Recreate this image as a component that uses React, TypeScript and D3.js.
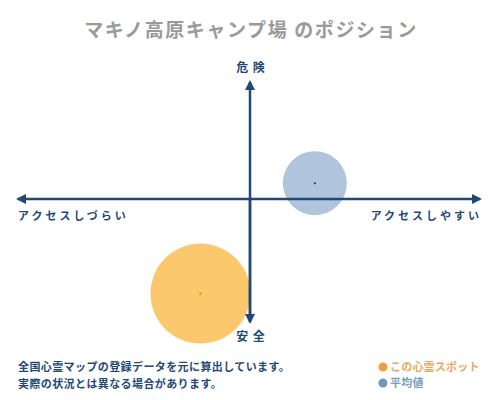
import { useEffect, useRef } from "react";
import * as d3 from "d3";

// positions on a -100..100 grid (x: access, y: danger)
const spotNames = ["この心霊スポット", "平均値"];
const accessValues = [-21, 28.5];
const dangerValues = [-78, 14];
const sizeValues = [100, 41];
const circleColors = ["#fcc86c", "#b0c4dc"];
const dotColors = ["#f0a020", "#333333"];
const legendColors = ["#f0a040", "#6e98c0"];
const legendTextColors = ["#e8a860", "#7b9cc0"];
const noteLines = [
  "全国心霊マップの登録データを元に算出しています。",
  "実際の状況とは異なる場合があります。",
];

const NAVY = "#1f4a75";
const FONT = "'Noto Sans CJK JP', sans-serif";

const App = () => {
  const ref = useRef<SVGSVGElement>(null);

  useEffect(() => {
    const svg = d3.select(ref.current);
    svg.selectAll("*").remove();

    const x = d3.scaleLinear().domain([-100, 100]).range([18, 480]);
    const y = d3.scaleLinear().domain([-100, 100]).range([320, 80]);
    const r = d3.scaleSqrt().domain([0, 100]).range([0, 50]);

    const defs = svg.append("defs");
    defs
      .append("marker")
      .attr("id", "arr")
      .attr("viewBox", "0 0 10 10")
      .attr("refX", 8)
      .attr("refY", 5)
      .attr("markerWidth", 4)
      .attr("markerHeight", 4)
      .attr("orient", "auto-start-reverse")
      .append("path")
      .attr("d", "M0,0 L10,5 L0,10 z")
      .attr("fill", NAVY);

    svg
      .append("rect")
      .attr("width", 500)
      .attr("height", 400)
      .attr("fill", "#fff");

    // title
    svg
      .append("text")
      .attr("x", 251)
      .attr("y", 37)
      .attr("text-anchor", "middle")
      .attr("font-family", FONT)
      .attr("font-size", 19)
      .attr("font-weight", 600)
      .attr("letter-spacing", 1.6)
      .attr("fill", "#9a9a9a")
      .text("マキノ高原キャンプ場 のポジション");

    // bubbles
    const idx = d3.range(spotNames.length);
    svg
      .selectAll("circle.bubble")
      .data(idx)
      .join("circle")
      .attr("class", "bubble")
      .attr("cx", (i) => x(accessValues[i]))
      .attr("cy", (i) => y(dangerValues[i]))
      .attr("r", (i) => r(sizeValues[i]))
      .attr("fill", (i) => circleColors[i]);

    // axes
    svg
      .append("line")
      .attr("x1", x(-100))
      .attr("x2", x(100))
      .attr("y1", y(0) - 1)
      .attr("y2", y(0) - 1)
      .attr("stroke", NAVY)
      .attr("stroke-width", 2.5)
      .attr("marker-start", "url(#arr)")
      .attr("marker-end", "url(#arr)");
    svg
      .append("line")
      .attr("x1", x(0) + 1)
      .attr("x2", x(0) + 1)
      .attr("y1", y(-100) + 2)
      .attr("y2", y(100) + 2)
      .attr("stroke", NAVY)
      .attr("stroke-width", 2.5)
      .attr("marker-end", "url(#arr)");
    svg
      .append("line")
      .attr("x1", x(0) + 1)
      .attr("x2", x(0) + 1)
      .attr("y1", y(0))
      .attr("y2", y(-100) + 2)
      .attr("stroke", NAVY)
      .attr("stroke-width", 2.5)
      .attr("marker-end", "url(#arr)");

    // center dots
    svg
      .selectAll("circle.dot")
      .data(idx)
      .join("circle")
      .attr("class", "dot")
      .attr("cx", (i) => x(accessValues[i]))
      .attr("cy", (i) => y(dangerValues[i]))
      .attr("r", (i) => (i === 0 ? 1.5 : 1))
      .attr("fill", (i) => dotColors[i]);

    const label = (tx: number, ty: number, t: string, anchor: string, ls: number) =>
      svg
        .append("text")
        .attr("x", tx)
        .attr("y", ty)
        .attr("text-anchor", anchor)
        .attr("font-family", FONT)
        .attr("font-size", 12)
        .attr("font-weight", 700)
        .attr("letter-spacing", ls)
        .attr("fill", NAVY)
        .text(t);

    label(x(0) + 2, 72, "危 険", "middle", 1);
    label(x(0) + 2, 341, "安 全", "middle", 1);
    label(18, 220, "アクセスしづらい", "start", 3).attr("font-size", 11);
    label(482, 220, "アクセスしやすい", "end", 3).attr("font-size", 11);

    // notes
    svg
      .selectAll("text.note")
      .data(noteLines)
      .join("text")
      .attr("class", "note")
      .attr("x", 18)
      .attr("y", (_, i) => 371 + i * 17)
      .attr("font-family", FONT)
      .attr("font-size", 11)
      .attr("font-weight", 700)
      .attr("letter-spacing", 0.4)
      .attr("fill", NAVY)
      .text((d) => d);

    // legend
    const lg = svg
      .selectAll("g.lg")
      .data(idx)
      .join("g")
      .attr("class", "lg")
      .attr("transform", (i) => `translate(383,${367 + i * 16})`);
    lg.append("circle")
      .attr("r", 4.5)
      .attr("fill", (i) => legendColors[i]);
    lg.append("text")
      .attr("x", 7)
      .attr("y", 4)
      .attr("font-family", FONT)
      .attr("font-size", 11)
      .attr("font-weight", 700)
      .attr("letter-spacing", 0.2)
      .attr("fill", (i) => legendTextColors[i])
      .text((i) => spotNames[i]);
  }, []);

  return (
    <svg
      ref={ref}
      width={500}
      height={400}
      style={{ position: "absolute", left: 0, top: 0, display: "block" }}
    />
  );
};

export default App;
